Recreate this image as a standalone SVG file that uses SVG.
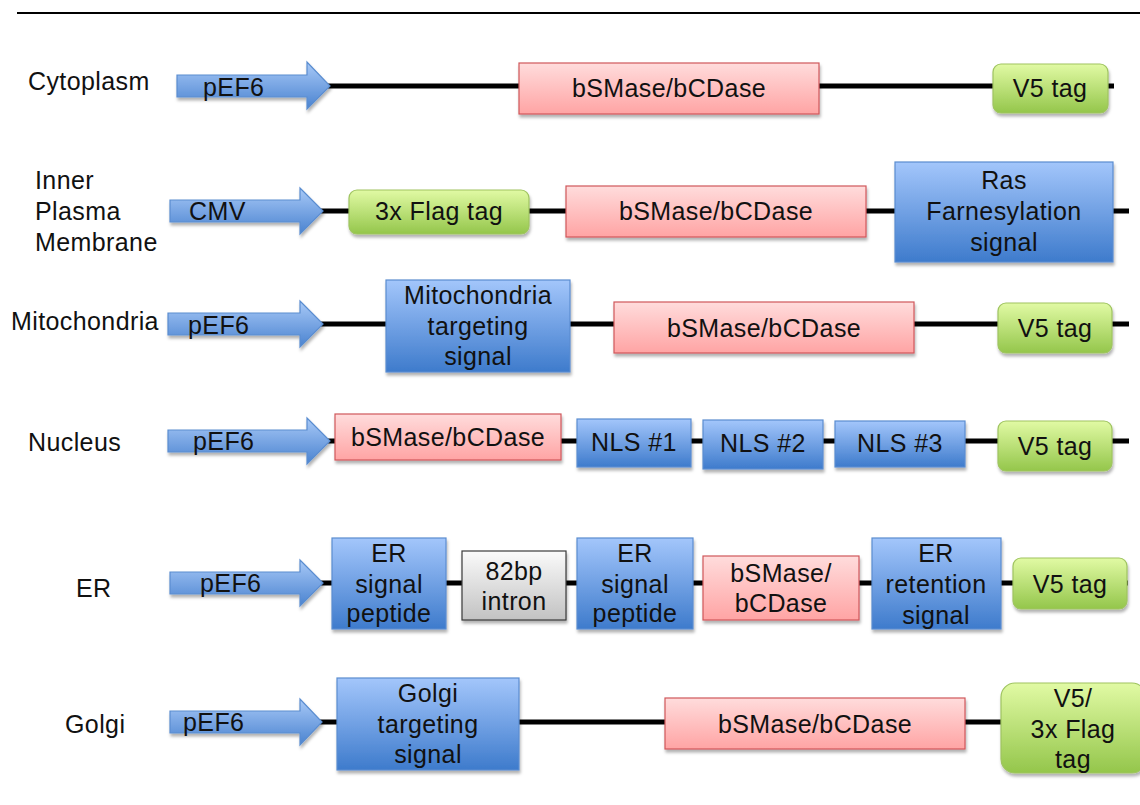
<svg xmlns="http://www.w3.org/2000/svg" width="1140" height="805" viewBox="0 0 1140 805">
<defs>
<linearGradient id="gBlue" x1="0" y1="0" x2="0" y2="1"><stop offset="0" stop-color="#a3c6fb"/><stop offset="1" stop-color="#3e7bcc"/></linearGradient>
<linearGradient id="gArrow" x1="0" y1="0" x2="0" y2="1"><stop offset="0" stop-color="#a8c9f7"/><stop offset="1" stop-color="#4a83d0"/></linearGradient>
<linearGradient id="gPink" x1="0" y1="0" x2="0" y2="1"><stop offset="0" stop-color="#ffdcdc"/><stop offset="1" stop-color="#ffa4a4"/></linearGradient>
<linearGradient id="gGreen" x1="0" y1="0" x2="0" y2="1"><stop offset="0" stop-color="#e1faa4"/><stop offset="1" stop-color="#94c64b"/></linearGradient>
<linearGradient id="gGray" x1="0" y1="0" x2="0" y2="1"><stop offset="0" stop-color="#fafafa"/><stop offset="1" stop-color="#c2c2c2"/></linearGradient>
<filter id="sh" x="-10%" y="-10%" width="125%" height="140%"><feDropShadow dx="1" dy="3" stdDeviation="1.5" flood-color="#000" flood-opacity="0.3"/></filter>
</defs>
<style>
text{font-family:"Liberation Sans",Arial,sans-serif;font-size:25px;letter-spacing:0.4px;fill:#111}
.c{text-anchor:middle}
.blue{fill:url(#gBlue);stroke:#5a8dd0;stroke-width:1.2;filter:url(#sh)}
.pink{fill:url(#gPink);stroke:#d0585a;stroke-width:1.2;filter:url(#sh)}
.green{fill:url(#gGreen);stroke:#9fc461;stroke-width:1.2;filter:url(#sh)}
.gray{fill:url(#gGray);stroke:#3a3a3a;stroke-width:1.2;filter:url(#sh)}
.arrow{fill:url(#gArrow);stroke:#5a8dd0;stroke-width:1.2;filter:url(#sh)}
.ln{stroke:#000;stroke-width:5;fill:none}
</style>
<rect width="1140" height="805" fill="#fff"/>
<line x1="17" y1="13" x2="1140" y2="13" stroke="#000" stroke-width="2"/>

<g id="connectors">
<line class="ln" x1="325" y1="86" x2="1114" y2="86"/>
<line class="ln" x1="318" y1="211" x2="1129" y2="211"/>
<line class="ln" x1="318" y1="324" x2="1129" y2="324"/>
<line class="ln" x1="325" y1="441" x2="1129" y2="441"/>
<line class="ln" x1="318" y1="583" x2="1128" y2="583"/>
<line class="ln" x1="318" y1="722" x2="1005" y2="722"/>
</g>

<g id="labels">
<text x="28" y="90">Cytoplasm</text>
<text x="35" y="189">Inner</text>
<text x="35" y="220">Plasma</text>
<text x="35" y="251">Membrane</text>
<text x="11" y="330">Mitochondria</text>
<text x="28" y="451">Nucleus</text>
<text x="76" y="597">ER</text>
<text x="65" y="733">Golgi</text>
</g>

<g id="row1">
<g id="r1-promoter"><path class="arrow" d="M177 75 H307 V62 L330 86 L307 109 V97 H177 Z"/><text x="203" y="96">pEF6</text></g>
<g id="r1-enzyme"><rect class="pink" x="519" y="63" width="300" height="51"/><text class="c" x="669" y="97">bSMase/bCDase</text></g>
<g id="r1-tag"><rect class="green" x="993" y="64" width="115" height="49" rx="8"/><text class="c" x="1050" y="97">V5 tag</text></g>
</g>

<g id="row2">
<g id="r2-promoter"><path class="arrow" d="M170 200 H300 V188 L323 211 L300 234 V222 H170 Z"/><text x="189" y="220">CMV</text></g>
<g id="r2-flag"><rect class="green" x="349" y="190" width="180" height="44" rx="8"/><text class="c" x="439" y="220">3x Flag tag</text></g>
<g id="r2-enzyme"><rect class="pink" x="566" y="186" width="300" height="51"/><text class="c" x="716" y="220">bSMase/bCDase</text></g>
<g id="r2-ras"><rect class="blue" x="895" y="162" width="218" height="100"/><text class="c" x="1004" y="189">Ras</text><text class="c" x="1004" y="220">Farnesylation</text><text class="c" x="1004" y="251">signal</text></g>
</g>

<g id="row3">
<g id="r3-promoter"><path class="arrow" d="M168 313 H300 V301 L323 324 L300 347 V335 H168 Z"/><text x="188" y="334">pEF6</text></g>
<g id="r3-mito"><rect class="blue" x="386" y="280" width="184" height="92"/><text class="c" x="478" y="304">Mitochondria</text><text class="c" x="478" y="335">targeting</text><text class="c" x="478" y="365">signal</text></g>
<g id="r3-enzyme"><rect class="pink" x="614" y="302" width="300" height="51"/><text class="c" x="764" y="337">bSMase/bCDase</text></g>
<g id="r3-tag"><rect class="green" x="998" y="303" width="114" height="50" rx="8"/><text class="c" x="1055" y="337">V5 tag</text></g>
</g>

<g id="row4">
<g id="r4-promoter"><path class="arrow" d="M168 430 H307 V418 L330 441 L307 464 V452 H168 Z"/><text x="193" y="450">pEF6</text></g>
<g id="r4-enzyme"><rect class="pink" x="335" y="414" width="226" height="46"/><text class="c" x="448" y="446">bSMase/bCDase</text></g>
<g id="r4-nls1"><rect class="blue" x="577" y="419" width="114" height="48"/><text class="c" x="634" y="451">NLS #1</text></g>
<g id="r4-nls2"><rect class="blue" x="703" y="420" width="120" height="49"/><text class="c" x="763" y="452">NLS #2</text></g>
<g id="r4-nls3"><rect class="blue" x="835" y="421" width="130" height="46"/><text class="c" x="900" y="452">NLS #3</text></g>
<g id="r4-tag"><rect class="green" x="998" y="421" width="114" height="50" rx="8"/><text class="c" x="1055" y="455">V5 tag</text></g>
</g>

<g id="row5">
<g id="r5-promoter"><path class="arrow" d="M170 572 H300 V560 L323 583 L300 606 V594 H170 Z"/><text x="200" y="592">pEF6</text></g>
<g id="r5-sp1"><rect class="blue" x="332" y="538" width="114" height="91"/><text class="c" x="389" y="562">ER</text><text class="c" x="389" y="593">signal</text><text class="c" x="389" y="622">peptide</text></g>
<g id="r5-intron"><rect class="gray" x="462" y="551" width="104" height="69"/><text class="c" x="514" y="580">82bp</text><text class="c" x="514" y="610">intron</text></g>
<g id="r5-sp2"><rect class="blue" x="577" y="538" width="116" height="91"/><text class="c" x="635" y="562">ER</text><text class="c" x="635" y="593">signal</text><text class="c" x="635" y="622">peptide</text></g>
<g id="r5-enzyme"><rect class="pink" x="703" y="556" width="156" height="64"/><text class="c" x="781" y="582">bSMase/</text><text class="c" x="781" y="612">bCDase</text></g>
<g id="r5-ret"><rect class="blue" x="872" y="538" width="129" height="91"/><text class="c" x="936" y="562">ER</text><text class="c" x="936" y="593">retention</text><text class="c" x="936" y="624">signal</text></g>
<g id="r5-tag"><rect class="green" x="1013" y="558" width="114" height="51" rx="8"/><text class="c" x="1070" y="593">V5 tag</text></g>
</g>

<g id="row6">
<g id="r6-promoter"><path class="arrow" d="M170 711 H300 V699 L322 722 L300 745 V733 H170 Z"/><text x="183" y="731">pEF6</text></g>
<g id="r6-golgi"><rect class="blue" x="337" y="678" width="182" height="92"/><text class="c" x="428" y="702">Golgi</text><text class="c" x="428" y="733">targeting</text><text class="c" x="428" y="763">signal</text></g>
<g id="r6-enzyme"><rect class="pink" x="665" y="698" width="300" height="51"/><text class="c" x="815" y="733">bSMase/bCDase</text></g>
<g id="r6-tag"><rect class="green" x="1001" y="683" width="145" height="90" rx="14"/><text class="c" x="1073" y="707">V5/</text><text class="c" x="1073" y="738">3x Flag</text><text class="c" x="1073" y="768">tag</text></g>
</g>
</svg>
